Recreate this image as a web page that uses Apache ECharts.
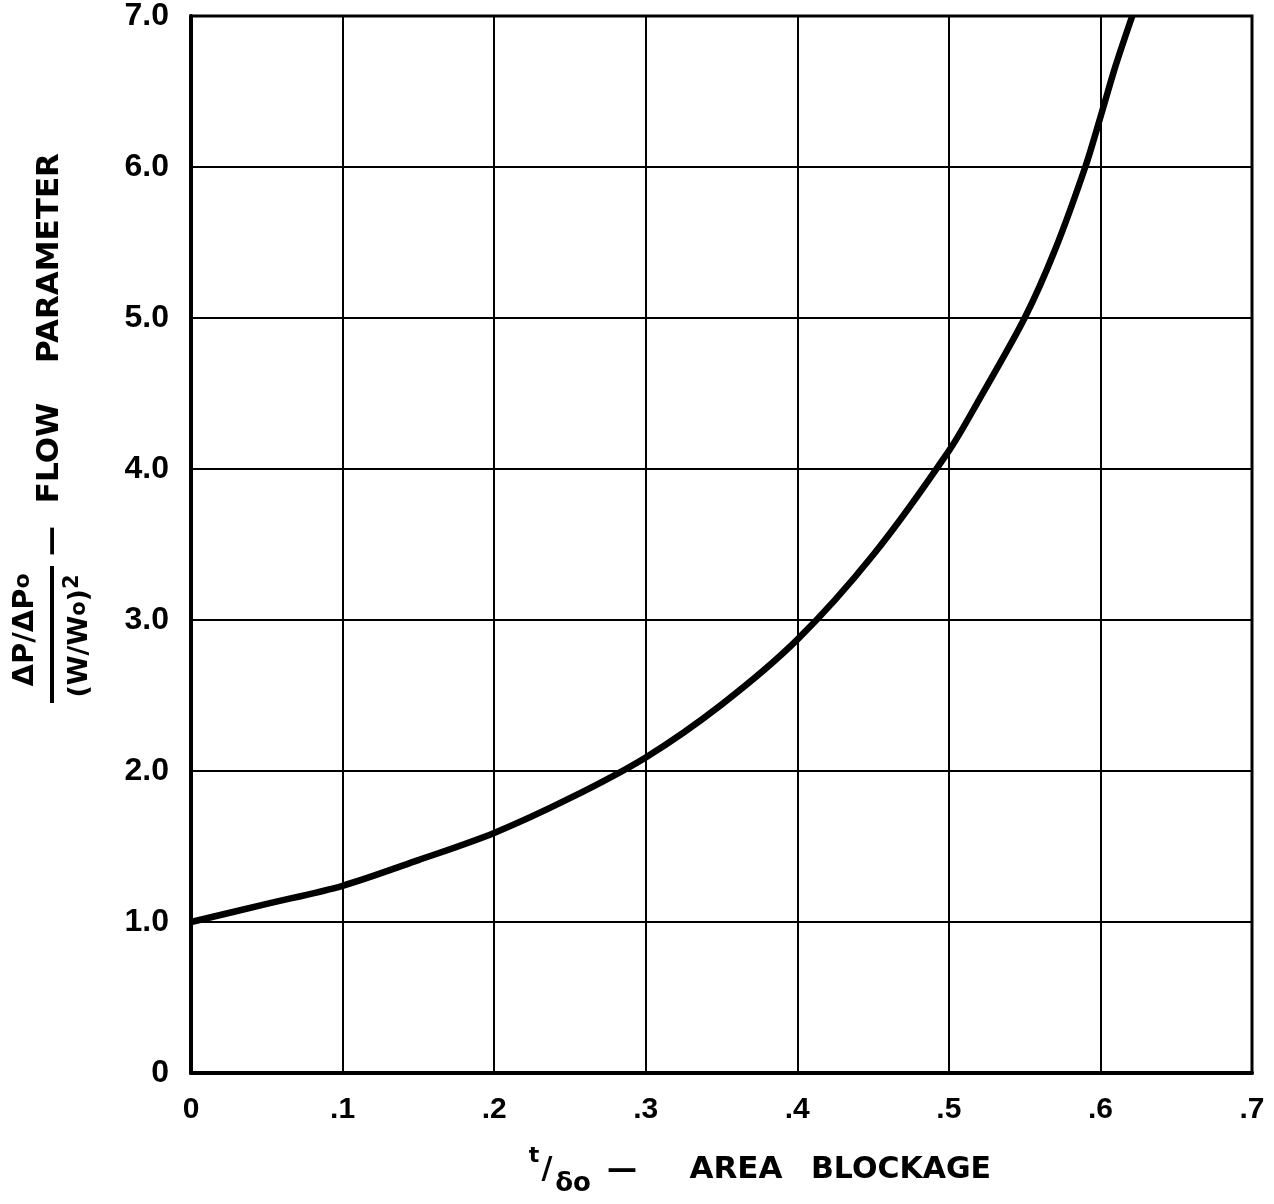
<!DOCTYPE html>
<html>
<head>
<meta charset="utf-8">
<script src="https://cdn.jsdelivr.net/npm/echarts@6/dist/echarts.min.js"></script>
<style>
  html, body { margin: 0; padding: 0; background: #fff; }
  #chart { width: 1274px; height: 1204px; }
</style>
</head>
<body>
<div id="chart"></div>
<script>
// ---- data ----
const blockage = [0, 0.05, 0.10, 0.15, 0.20, 0.25, 0.30, 0.35, 0.40, 0.45, 0.50, 0.52, 0.55, 0.57, 0.59, 0.60, 0.61, 0.621];
const flowParam = [1.00, 1.12, 1.24, 1.41, 1.59, 1.82, 2.09, 2.44, 2.87, 3.43, 4.12, 4.46, 5.00, 5.45, 6.00, 6.33, 6.67, 7.00];
const xTickLabels = ['0', '.1', '.2', '.3', '.4', '.5', '.6', '.7'];
const yTickLabels = ['0', '1.0', '2.0', '3.0', '4.0', '5.0', '6.0', '7.0'];

const points = blockage.map((x, i) => [x, flowParam[i]]);
const FONT = '"DejaVu Sans", sans-serif';
const TICKFONT = '"Liberation Sans", Arial, sans-serif';

const chart = echarts.init(document.getElementById('chart'));
chart.setOption({
  backgroundColor: '#ffffff',
  animation: false,
  grid: { left: 191, right: 22, top: 15, bottom: 131, show: true, borderColor: '#000', borderWidth: 3 },
  xAxis: {
    type: 'value', min: 0, max: 0.7, interval: 0.1,
    axisLine: { show: true, lineStyle: { color: '#000', width: 4 } },
    axisTick: { show: false },
    splitLine: { show: true, lineStyle: { color: '#000', width: 2 } },
    axisLabel: {
      margin: 22, color: '#000', fontFamily: TICKFONT, fontWeight: 'bold', fontSize: 30,
      formatter: (v) => xTickLabels[Math.round(v * 10)]
    }
  },
  yAxis: {
    type: 'value', min: 0, max: 7, interval: 1,
    axisLine: { show: true, lineStyle: { color: '#000', width: 4 } },
    axisTick: { show: false },
    splitLine: { show: true, lineStyle: { color: '#000', width: 2 } },
    axisLabel: {
      margin: 22, color: '#000', fontFamily: TICKFONT, fontWeight: 'bold', fontSize: 32,
      formatter: (v) => yTickLabels[Math.round(v)]
    }
  },
  series: [{
    type: 'line', data: points, smooth: 0.3, symbol: 'none',
    lineStyle: { color: '#000', width: 6.5 }, z: 5
  }],
  graphic: [
    // y-axis title (rotated)
    { type: 'text', x: 50, y: 258, rotation: Math.PI / 2,
      style: { text: 'PARAMETER', font: 'bold 31px ' + FONT, fill: '#000', align: 'center', verticalAlign: 'middle' } },
    { type: 'text', x: 50, y: 453, rotation: Math.PI / 2,
      style: { text: 'FLOW', font: 'bold 31px ' + FONT, fill: '#000', align: 'center', verticalAlign: 'middle' } },
    { type: 'text', x: 52, y: 541, rotation: Math.PI / 2,
      style: { text: '—', font: 'bold 30px ' + FONT, fill: '#000', align: 'center', verticalAlign: 'middle' } },
    { type: 'text', x: 25, y: 630, rotation: Math.PI / 2,
      style: { text: '{a|ΔP/ΔP}{b|o}', fill: '#000', align: 'center', verticalAlign: 'middle',
        rich: { a: { font: 'bold 29px ' + FONT, fill: '#000' }, b: { font: 'bold 22px ' + FONT, fill: '#000', padding: [0, 0, 4, 0] } } } },
    { type: 'line', shape: { x1: 52, y1: 566, x2: 52, y2: 703 }, style: { stroke: '#000', lineWidth: 4 } },
    { type: 'text', x: 80, y: 636, rotation: Math.PI / 2,
      style: { text: '{a|(W/W}{b|o}{a|)}{c|2}', fill: '#000', align: 'center', verticalAlign: 'middle',
        rich: { a: { font: 'bold 27px ' + FONT, fill: '#000' }, b: { font: 'bold 21px ' + FONT, fill: '#000' }, c: { font: 'bold 21px ' + FONT, fill: '#000', padding: [0, 0, 14, 0] } } } },
    // x-axis title
    { type: 'text', x: 534, y: 1156,
      style: { text: 't', font: 'bold 22px ' + FONT, fill: '#000', align: 'center', verticalAlign: 'middle' } },
    { type: 'text', x: 547, y: 1170,
      style: { text: '/', font: 'bold 30px ' + FONT, fill: '#000', align: 'center', verticalAlign: 'middle' } },
    { type: 'text', x: 573, y: 1184,
      style: { text: 'δo', font: 'bold 26px ' + FONT, fill: '#000', align: 'center', verticalAlign: 'middle' } },
    { type: 'text', x: 622, y: 1170,
      style: { text: '—', font: 'bold 30px ' + FONT, fill: '#000', align: 'center', verticalAlign: 'middle' } },
    { type: 'text', x: 736, y: 1170,
      style: { text: 'AREA', font: 'bold 31px ' + FONT, fill: '#000', align: 'center', verticalAlign: 'middle' } },
    { type: 'text', x: 901, y: 1170,
      style: { text: 'BLOCKAGE', font: 'bold 30px ' + FONT, fill: '#000', align: 'center', verticalAlign: 'middle' } }
  ]
});
</script>
</body>
</html>
